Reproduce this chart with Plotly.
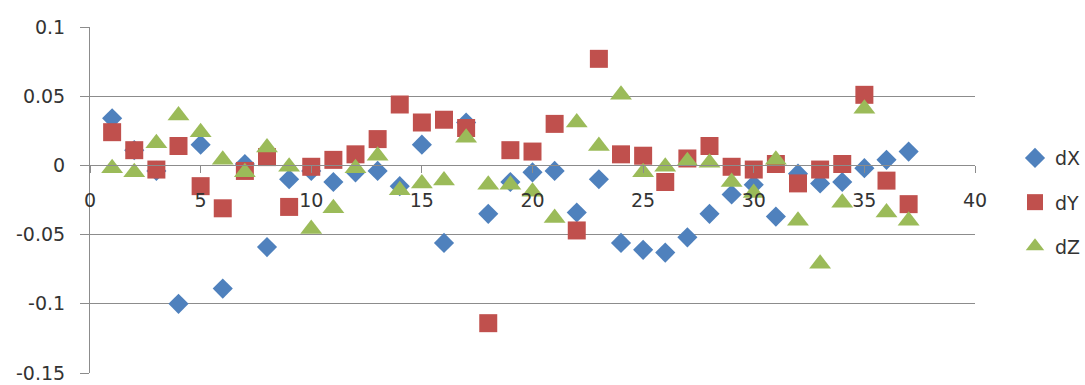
import plotly.graph_objects as go

idx = list(range(1, 38))

dX = [0.034, 0.011, -0.004, -0.100, 0.015, -0.089, 0.001, -0.059, -0.010, -0.004,
      -0.012, -0.005, -0.004, -0.015, 0.015, -0.056, 0.031, -0.035, -0.012, -0.005,
      -0.004, -0.034, -0.010, -0.056, -0.061, -0.063, -0.052, -0.035, -0.021, -0.014,
      -0.037, -0.006, -0.013, -0.012, -0.002, 0.004, 0.010]

dY = [0.024, 0.011, -0.003, 0.014, -0.015, -0.031, -0.004, 0.006, -0.030, -0.001,
      0.004, 0.008, 0.019, 0.044, 0.031, 0.033, 0.027, -0.114, 0.011, 0.010,
      0.030, -0.047, 0.077, 0.008, 0.007, -0.012, 0.005, 0.014, -0.001, -0.003,
      0.001, -0.013, -0.003, 0.001, 0.051, -0.011, -0.028]

dZ = [-0.002, -0.005, 0.016, 0.036, 0.024, 0.004, -0.005, 0.013, -0.001, -0.046,
      -0.031, -0.002, 0.007, -0.018, -0.013, -0.011, 0.020, -0.014, -0.014, -0.019,
      -0.038, 0.031, 0.014, 0.051, -0.005, -0.001, 0.003, 0.002, -0.012, -0.020,
      0.004, -0.040, -0.071, -0.027, 0.041, -0.034, -0.040]

y_ticks = [-0.15, -0.1, -0.05, 0, 0.05, 0.1]
y_labels = ["-0.15", "-0.1", "-0.05", "0", "0.05", "0.1"]
x_ticks = [0, 5, 10, 15, 20, 25, 30, 35, 40]
x_labels = ["0", "5", "10", "15", "20", "25", "30", "35", "40"]

GRID = "#8c8c8c"
FONT = "DejaVu Sans"
TXT = "#333333"

fig = go.Figure()
fig.add_trace(go.Scatter(x=idx, y=dX, mode="markers", name="dX", legendgroup="a",
                         marker=dict(symbol="diamond", size=15.5, color="#4F81BD")))
fig.add_trace(go.Scatter(x=idx, y=dY, mode="markers", name="dY", legendgroup="b",
                         marker=dict(symbol="square", size=18, color="#C0504D")))
fig.add_trace(go.Scatter(x=idx, y=dZ, mode="markers", name="dZ", legendgroup="c",
                         marker=dict(symbol="triangle-up", size=19, color="#9BBB59")))

fig.update_layout(
    width=1085, height=385,
    margin=dict(l=90, r=110, t=27, b=12, autoexpand=False),
    paper_bgcolor="white", plot_bgcolor="white",
    font=dict(family=FONT, size=19, color=TXT),
    showlegend=True,
    legend=dict(x=1.0452, y=0.676, xanchor="left", yanchor="top",
                itemwidth=30,
                tracegroupgap=16.5, font=dict(family=FONT, size=19, color=TXT),
                bgcolor="rgba(0,0,0,0)"),
    xaxis=dict(range=[0, 40], tickvals=x_ticks, ticktext=x_labels,
               anchor="free", position=0.6, automargin=False,
               showgrid=False, zeroline=False,
               showline=True, linecolor=GRID, linewidth=1,
               ticks="outside", ticklen=7, tickcolor=GRID, tickwidth=1,
               ticklabelstandoff=11),
    yaxis=dict(range=[-0.15, 0.1], tickvals=y_ticks, ticktext=y_labels,
               automargin=False,
               showgrid=True, gridcolor=GRID, gridwidth=1, zeroline=False,
               showline=True, linecolor=GRID, linewidth=1,
               ticks="outside", ticklen=9, tickcolor=GRID, tickwidth=1,
               ticklabelstandoff=11),
)

fig.write_html("out.html")
